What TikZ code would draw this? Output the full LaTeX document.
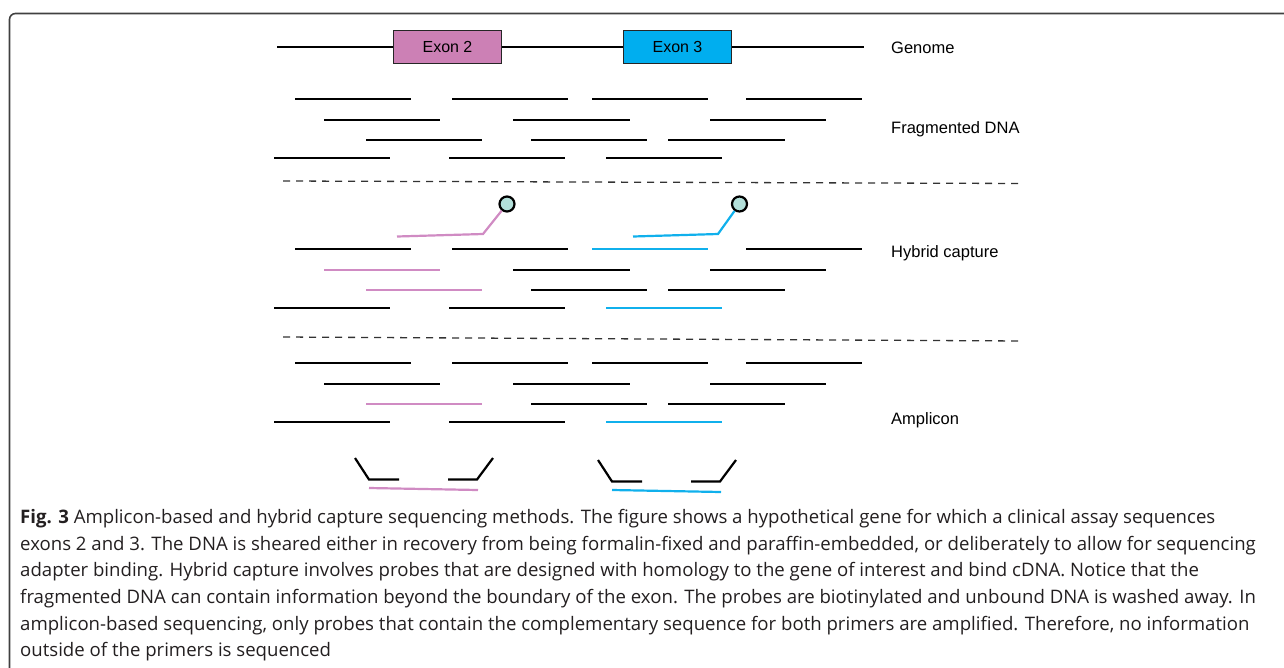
\documentclass[tikz,border=0pt]{standalone}
\usepackage{fontspec}
\setmainfont{Liberation Sans}
\newfontfamily\capfont{Open Sans}
\usetikzlibrary{positioning}
\definecolor{exonpink}{HTML}{CC80B5}
\definecolor{exonblue}{HTML}{00AEEF}
\definecolor{probepink}{HTML}{D08BC3}
\definecolor{probeblue}{HTML}{10B0EC}
\definecolor{beadfill}{HTML}{B3E0DA}
\definecolor{capgray}{HTML}{231F20}
\tikzstyle{frag}=[line width=2.2pt]
\tikzstyle{dna}=[line width=2pt]
\tikzstyle{exon}=[draw=black!85,line width=1.2pt,minimum width=108pt,minimum height=33pt,inner sep=0pt,font=\fontsize{16}{18}\selectfont]
\tikzstyle{lbl}=[anchor=west,inner sep=0pt,font=\fontsize{16.5}{19}\selectfont]
\tikzstyle{sep}=[line width=1.3pt,black!80,dash pattern=on 7pt off 6pt]
\tikzstyle{bead}=[circle,draw=black,line width=2.2pt,fill=beadfill,minimum size=15pt,inner sep=0pt]

\begin{document}
\begin{tikzpicture}[x=1pt,y=-1pt,line cap=butt]
    \useasboundingbox (0,0) rectangle (1284,667);
    \draw[black!75,line width=1.6pt,rounded corners=6pt] (9.5,668) -- (9.5,13.5) -- (1284,13.5);

    % genome
    \node[exon,fill=exonpink] (exon2) at (447.5,47) {Exon 2};
    \node[exon,fill=exonblue] (exon3) at (677.5,47) {Exon 3};
    \coordinate (gL) at (277,47);
    \coordinate (gR) at (864,47);
    \draw[dna] (gL) -- (exon2) -- (exon3) -- (gR);
    \node[lbl] (genome) at (891,48) {Genome};

    % fragmented DNA
    \foreach \xa/\xb/\yy in {295/411/99,452/568/99,592/708/99,746/862/99,
                             324/440/120,513/630/120,710/826/120,
                             366/482/140,531/647/140,668/785/140,
                             274/390/158,449/565/158,606/722/158}
        \draw[frag] (\xa,\yy) -- (\xb,\yy);
    \node[lbl] (fragdna) at (891,129) {Fragmented DNA};

    \coordinate (sepA1) at (283,181);
    \coordinate (sepA2) at (1023,183.5);
    \draw[sep] (sepA1) -- (sepA2);

    % hybrid capture
    \foreach \xa/\xb/\yy/\cl in {295/411/249/black,452/568/249/black,592/708/249/probeblue,746/862/249/black,
                                 324/440/270/probepink,513/630/270/black,710/826/270/black,
                                 366/482/290/probepink,531/647/290/black,668/785/290/black,
                                 274/390/308/black,449/565/308/black,606/722/308/probeblue}
        \draw[frag,\cl] (\xa,\yy) -- (\xb,\yy);
    \node[bead] (bead2) at (507,204) {};
    \node[bead] (bead3) at (739.5,204) {};
    \draw[frag,probepink] (397,236.5) -- (483,234) -- (bead2);
    \draw[frag,probeblue] (633,236.5) -- (718,234) -- (bead3);
    \node[lbl] (hybrid) at (891,253) {Hybrid capture};

    \coordinate (sepB1) at (283,337);
    \coordinate (sepB2) at (1023,341);
    \draw[sep] (sepB1) -- (sepB2);

    % amplicon
    \foreach \xa/\xb/\yy/\cl in {295/411/363/black,452/568/363/black,592/708/363/black,746/862/363/black,
                                 324/440/384/black,513/630/384/black,710/826/384/black,
                                 366/482/404/probepink,531/647/404/black,668/785/404/black,
                                 274/390/422/black,449/565/422/black,606/722/422/probeblue}
        \draw[frag,\cl] (\xa,\yy) -- (\xb,\yy);
    \node[lbl] (amplicon) at (891,420) {Amplicon};

    % primers
    \foreach \dx/\dy/\cl in {0/0/probepink,243/2/probeblue}{
        \draw[frag] (355+\dx,458+\dy) -- (369+\dx,479.5+\dy) -- (399+\dx,479.5+\dy);
        \draw[frag] (448+\dx,479.5+\dy) -- (477+\dx,479.5+\dy) -- (493+\dx,458+\dy);
        \draw[frag,\cl] (369+\dx,488+\dy) -- (478+\dx,490+\dy);
    }

    % caption
    \node[anchor=north west,inner sep=0pt,align=left,text=capgray,
          font=\capfont\fontsize{18.6}{26.7}\selectfont] (caption) at (20,509)
    {\textbf{Fig. 3} Amplicon-based and hybrid capture sequencing methods. The figure shows a hypothetical gene for which a clinical assay sequences\\
     exons 2 and 3. The DNA is sheared either in recovery from being formalin-fixed and paraffin-embedded, or deliberately to allow for sequencing\\
     adapter binding. Hybrid capture involves probes that are designed with homology to the gene of interest and bind cDNA. Notice that the\\
     fragmented DNA can contain information beyond the boundary of the exon. The probes are biotinylated and unbound DNA is washed away. In\\
     amplicon-based sequencing, only probes that contain the complementary sequence for both primers are amplified. Therefore, no information\\
     outside of the primers is sequenced};
\end{tikzpicture}
\end{document}
